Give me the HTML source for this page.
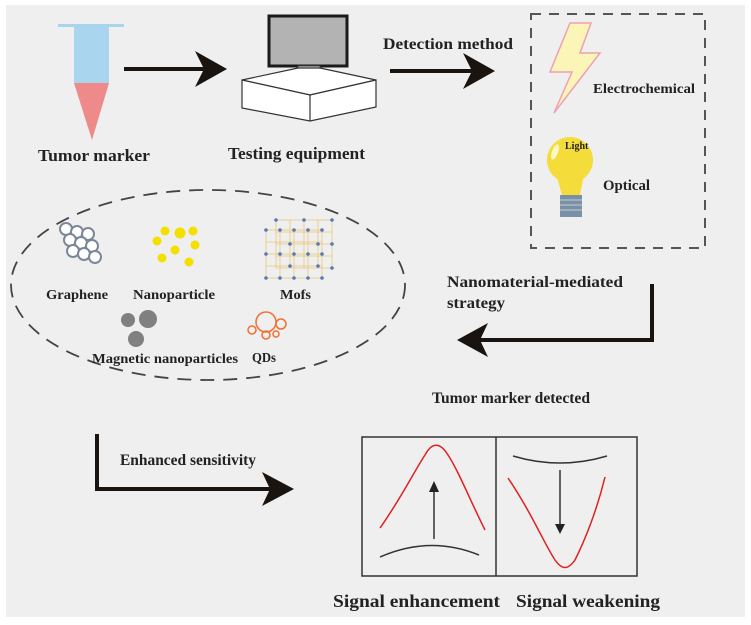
<!DOCTYPE html>
<html><head><style>
html,body{margin:0;padding:0;background:#fff;}
svg{display:block;}
text{font-family:"Liberation Serif",serif;font-weight:bold;fill:#222;}
</style></head><body>
<svg width="751" height="625" viewBox="0 0 751 625" xmlns="http://www.w3.org/2000/svg">
<rect x="6" y="5" width="739" height="612" fill="#efefef"/>
<!-- tube -->
<rect x="58" y="24" width="66" height="3" fill="#a8d4ec"/>
<path d="M74 27 H109 V83 H74 Z" fill="#a9d5ef"/>
<path d="M74 83 H109 L92 140 Z" fill="#ee8a8a"/>
<text x="38" y="161" font-size="17" textLength="112" lengthAdjust="spacingAndGlyphs">Tumor marker</text>
<!-- arrow 1 -->
<line x1="124" y1="69" x2="205" y2="69" stroke="#1a1410" stroke-width="4"/>
<path d="M195 51 L227 69 L195 87 L204 69 Z" fill="#1a1410"/>
<!-- computer -->
<rect x="269" y="16" width="78" height="50" fill="#b3b3b3" stroke="#1a1a1a" stroke-width="3"/>
<rect x="298" y="66" width="22" height="12" fill="#d4d4d4" stroke="#444" stroke-width="1"/>
<path d="M242 80 L298 68 L320 68 L376 80 L310 95 Z" fill="#fff" stroke="#333" stroke-width="1.2"/>
<path d="M242 80 L242 108 L310 121 L376 107 L376 80 L310 95 Z" fill="#fff" stroke="#333" stroke-width="1.2"/>
<line x1="310" y1="95" x2="310" y2="121" stroke="#333" stroke-width="1.2"/>
<text x="228" y="159" font-size="17" textLength="137" lengthAdjust="spacingAndGlyphs">Testing equipment</text>
<!-- arrow 2 -->
<text x="383" y="49" font-size="16" textLength="130" lengthAdjust="spacingAndGlyphs">Detection method</text>
<line x1="390" y1="71" x2="475" y2="71" stroke="#1a1410" stroke-width="4"/>
<path d="M463 53 L495 71 L463 89 L472 71 Z" fill="#1a1410"/>
<!-- dashed rect -->
<rect x="531" y="14" width="174" height="234" fill="none" stroke="#555" stroke-width="2" stroke-dasharray="10,8"/>
<path d="M570 23 L591 23 L580 53 L600 53 L554 113 L572 72 L550 72 Z" fill="#fbf6b8" stroke="#f0a0b0" stroke-width="1.5"/>
<text x="593" y="93" font-size="14" textLength="102" lengthAdjust="spacingAndGlyphs">Electrochemical</text>
<circle cx="570" cy="160" r="23" fill="#f4dc3a"/>
<path d="M555 170 L585 170 L580 195 L562 195 Z" fill="#f4dc3a"/>
<rect x="560" y="195" width="22" height="22" fill="#7890a8"/>
<line x1="560" y1="200" x2="582" y2="200" stroke="#ccc"/><line x1="560" y1="205" x2="582" y2="205" stroke="#ccc"/><line x1="560" y1="210" x2="582" y2="210" stroke="#ccc"/>
<ellipse cx="555" cy="152" rx="3" ry="8" fill="#fff8c8" transform="rotate(20 555 152)"/>
<text x="565" y="149" font-size="10">Light</text>
<text x="603" y="190" font-size="15" textLength="47" lengthAdjust="spacingAndGlyphs">Optical</text>
<!-- ellipse -->
<ellipse cx="208" cy="285" rx="197" ry="95" fill="none" stroke="#444" stroke-width="1.8" stroke-dasharray="14,9"/>
<g fill="#fff" stroke="#7a8898" stroke-width="2">
<circle cx="66" cy="229" r="6"/><circle cx="77" cy="232" r="6"/><circle cx="88" cy="234" r="6"/>
<circle cx="70" cy="240" r="6"/><circle cx="81" cy="243" r="6"/><circle cx="92" cy="246" r="6"/>
<circle cx="73" cy="251" r="6"/><circle cx="84" cy="254" r="6"/><circle cx="95" cy="257" r="6"/>
</g>
<g fill="#f3e000">
<circle cx="165" cy="231" r="4.5"/><circle cx="180" cy="233" r="5.5"/><circle cx="193" cy="231" r="4.5"/>
<circle cx="157" cy="241" r="4.5"/><circle cx="175" cy="250" r="4.5"/><circle cx="195" cy="245" r="4.5"/>
<circle cx="162" cy="258" r="4.5"/><circle cx="189" cy="262" r="4.5"/>
</g>
<g stroke="#e8c878" stroke-width="0.8" fill="none">
<rect x="266" y="230" width="56" height="48"/><rect x="276" y="220" width="56" height="48"/>
<path d="M266 242 h56 M266 254 h56 M266 266 h56 M280 230 v48 M294 230 v48 M308 230 v48 M276 232 h56 M276 244 h56 M276 256 h56 M290 220 v48 M304 220 v48 M318 220 v48"/>
</g>
<g fill="#5878b8">
<circle cx="266" cy="230" r="1.8"/><circle cx="280" cy="230" r="1.8"/><circle cx="294" cy="230" r="1.8"/><circle cx="308" cy="230" r="1.8"/><circle cx="322" cy="230" r="1.8"/>
<circle cx="266" cy="254" r="1.8"/><circle cx="280" cy="254" r="1.8"/><circle cx="294" cy="254" r="1.8"/><circle cx="308" cy="254" r="1.8"/><circle cx="322" cy="254" r="1.8"/>
<circle cx="266" cy="278" r="1.8"/><circle cx="280" cy="278" r="1.8"/><circle cx="294" cy="278" r="1.8"/><circle cx="308" cy="278" r="1.8"/><circle cx="322" cy="278" r="1.8"/>
<circle cx="276" cy="220" r="1.8"/><circle cx="304" cy="220" r="1.8"/><circle cx="332" cy="220" r="1.8"/><circle cx="332" cy="244" r="1.8"/><circle cx="332" cy="268" r="1.8"/>
<circle cx="290" cy="244" r="1.8"/><circle cx="318" cy="244" r="1.8"/><circle cx="290" cy="266" r="1.8"/><circle cx="318" cy="266" r="1.8"/>
</g>
<text x="46" y="299" font-size="14" textLength="62" lengthAdjust="spacingAndGlyphs">Graphene</text>
<text x="133" y="299" font-size="14" textLength="82" lengthAdjust="spacingAndGlyphs">Nanoparticle</text>
<text x="280" y="299" font-size="14" textLength="31" lengthAdjust="spacingAndGlyphs">Mofs</text>
<g fill="#808080"><circle cx="128" cy="320" r="7"/><circle cx="148" cy="319" r="9"/><circle cx="136" cy="339" r="8"/></g>
<text x="92" y="363" font-size="14" textLength="146" lengthAdjust="spacingAndGlyphs">Magnetic nanoparticles</text>
<g fill="none" stroke="#f07030" stroke-width="1.5"><circle cx="266" cy="322" r="10"/><circle cx="281" cy="324" r="5"/><circle cx="252" cy="330" r="4"/><circle cx="266" cy="335" r="4"/><circle cx="276" cy="334" r="3"/></g>
<text x="252" y="362" font-size="14" textLength="24" lengthAdjust="spacingAndGlyphs">QDs</text>
<!-- arrow 3 -->
<text x="447" y="287" font-size="16" textLength="176" lengthAdjust="spacingAndGlyphs">Nanomaterial-mediated</text>
<text x="447" y="308" font-size="16" textLength="58" lengthAdjust="spacingAndGlyphs">strategy</text>
<path d="M652 284 V340 H470" fill="none" stroke="#1a1410" stroke-width="4"/>
<path d="M488 323 L457 340 L488 357 L480 340 Z" fill="#1a1410"/>
<text x="432" y="403" font-size="16" textLength="158" lengthAdjust="spacingAndGlyphs">Tumor marker detected</text>
<!-- arrow 4 -->
<text x="120" y="465" font-size="16" textLength="136" lengthAdjust="spacingAndGlyphs">Enhanced sensitivity</text>
<path d="M97 434 V489 H275" fill="none" stroke="#1a1410" stroke-width="4"/>
<path d="M262 472 L294 489 L262 506 L270 489 Z" fill="#1a1410"/>
<!-- boxes -->
<rect x="362" y="437" width="275" height="139" fill="none" stroke="#333" stroke-width="1.5"/>
<line x1="496" y1="437" x2="496" y2="576" stroke="#333" stroke-width="1.5"/>
<path d="M380 528 C400 500 415 470 425 455 C432 442 440 442 448 455 C458 470 470 500 485 530" fill="none" stroke="#e02020" stroke-width="1.5"/>
<path d="M380 557 Q430 535 479 555" fill="none" stroke="#333" stroke-width="1.5"/>
<line x1="434" y1="539" x2="434" y2="490" stroke="#333" stroke-width="1.5"/>
<path d="M429 492 L434 481 L439 492 Z" fill="#222"/>
<path d="M508 478 C530 510 545 545 555 560 C562 570 568 570 575 560 C585 540 597 510 605 477" fill="none" stroke="#e02020" stroke-width="1.5"/>
<path d="M513 456 Q560 470 607 456" fill="none" stroke="#333" stroke-width="1.5"/>
<line x1="560" y1="470" x2="560" y2="525" stroke="#333" stroke-width="1.5"/>
<path d="M555 524 L560 534 L565 524 Z" fill="#222"/>
<text x="333" y="607" font-size="18" textLength="167" lengthAdjust="spacingAndGlyphs">Signal enhancement</text>
<text x="516" y="607" font-size="18" textLength="144" lengthAdjust="spacingAndGlyphs">Signal weakening</text>
</svg>
</body></html>
